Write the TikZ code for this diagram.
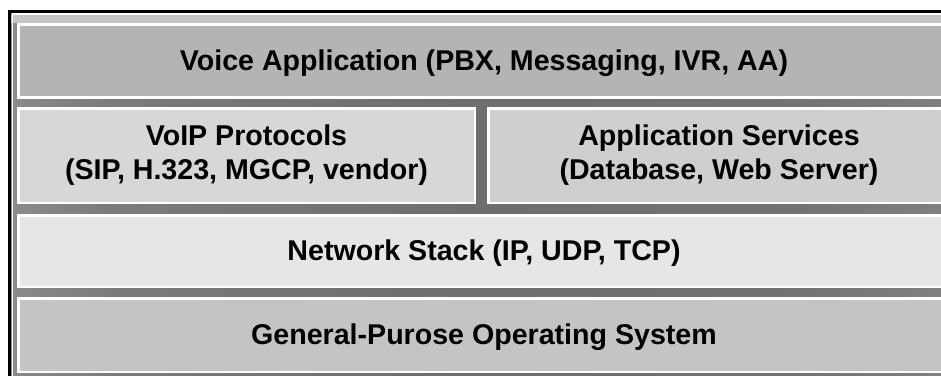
\documentclass[tikz,border=0pt]{standalone}
\usepackage{fontspec}
\setmainfont{Liberation Sans}
\definecolor{voiceFill}{HTML}{B4B4B4}
\definecolor{voipFill}{HTML}{D7D7D7}
\definecolor{svcFill}{HTML}{CFCFCF}
\definecolor{netFill}{HTML}{E6E6E6}
\definecolor{osFill}{HTML}{C4C4C4}
\definecolor{topBand}{HTML}{C6C6C6}
% ground: light at both edges, dark towards the middle
\pgfdeclarehorizontalshading{groundshade}{100bp}{%
  color(0bp)=(white!82!black); color(3bp)=(white!82!black);
  color(9.4bp)=(white!72!black); color(20bp)=(white!60!black);
  color(30.5bp)=(white!48!black); color(49.5bp)=(white!43!black);
  color(66.4bp)=(white!45!black); color(72.8bp)=(white!49!black);
  color(83.3bp)=(white!60!black); color(93.9bp)=(white!74!black);
  color(98.2bp)=(white!82!black); color(100bp)=(white!82!black)}
\tikzset{
  layer/.style={draw=white, line width=2.5pt, inner sep=0pt, outer sep=0pt,
    font=\bfseries\fontsize{28.6}{34}\selectfont, align=center, text=black},
  oneline/.style={text height=21pt, text depth=1.8pt},
}
\begin{document}
\begin{tikzpicture}[x=1pt, y=-1pt]
  \useasboundingbox (0,0) rectangle (941,375);
  \clip (0,0) rectangle (941,375);
  % shaded ground and the light strip along the top
  \shade[shading=groundshade] (11,13) rectangle (958,386);
  \fill[topBand] (11,15) rectangle (958,23);
  % frame with a thin light inner edge
  \draw[white, line width=1.5pt] (12.5,14.2) rectangle (957,386);
  \draw[line width=3pt, black] (9.5,11.7) rectangle (960,388);
  % stack layers
  \node[layer, oneline, fill=voiceFill, minimum width=931.5pt, minimum height=73pt]
    (voice) at (484,61) {Voice Application (PBX, Messaging, IVR, AA)};
  \node[layer, fill=voipFill, minimum width=456.5pt, minimum height=94.5pt]
    (voip) at (246.5,155.5) {VoIP Protocols\\(SIP, H.323, MGCP, vendor)};
  \node[layer, fill=svcFill, minimum width=461.5pt, minimum height=94.5pt]
    (svc) at (719,155.5) {Application Services\\(Database, Web Server)};
  \node[layer, oneline, fill=netFill, minimum width=931.5pt, minimum height=71.5pt]
    (net) at (484,251) {Network Stack (IP, UDP, TCP)};
  \node[layer, oneline, fill=osFill, minimum width=931.5pt, minimum height=73.5pt]
    (os) at (484,335) {General-Purose Operating System};
\end{tikzpicture}
\end{document}
